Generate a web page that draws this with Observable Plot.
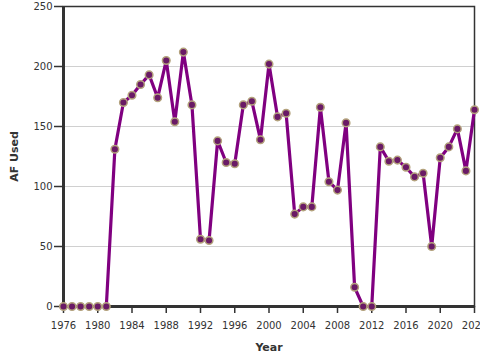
<!DOCTYPE html>
<html>
<head>
<meta charset="utf-8">
<script src="https://cdn.jsdelivr.net/npm/d3@7"></script>
<script src="https://cdn.jsdelivr.net/npm/@observablehq/plot@0.6"></script>
<style>
  html, body { margin: 0; padding: 0; background: #fff; }
  #chart svg { display: block; }
  g[aria-label="x-axis label"] text, g[aria-label="y-axis label"] text { font-weight: bold; font-size: 11px; }
</style>
</head>
<body>
<div id="chart"></div>
<script>
const years = [1976,1977,1978,1979,1980,1981,1982,1983,1984,1985,1986,1987,1988,1989,1990,1991,1992,1993,1994,1995,1996,1997,1998,1999,2000,2001,2002,2003,2004,2005,2006,2007,2008,2009,2010,2011,2012,2013,2014,2015,2016,2017,2018,2019,2020,2021,2022,2023,2024];
const afUsed = [0,0,0,0,0,0,131,170,176,185,193,174,205,154,212,168,56,55,138,120,119,168,171,139,202,158,161,77,83,83,166,104,97,153,16,0,0,133,121,122,116,108,111,50,124,133,148,113,164];
const xTicks = d3.range(1976, 2025, 4);
const yTicks = [0,50,100,150,200,250];
const gridTicks = [50,100,150,200];

const data = years.map((y, i) => ({year: y, af: afUsed[i]}));

const chart = Plot.plot({
  width: 480,
  height: 360,
  marginLeft: 63,
  marginRight: 6,
  marginTop: 6,
  marginBottom: 54,
  style: {fontFamily: "DejaVu Sans", fontSize: "10px", color: "#333", background: "#fff"},
  x: {domain: [1976, 2024]},
  y: {domain: [0, 250]},
  marks: [
    Plot.ruleY(gridTicks, {stroke: "#d0d0d0", strokeWidth: 1}),
    Plot.frame({stroke: "#333", strokeWidth: 1.5}),
    Plot.axisX({ticks: xTicks, tickFormat: d => String(d), tickSize: 7, tickPadding: 8, label: "Year", labelAnchor: "center", labelArrow: "none", labelOffset: 44, stroke: "#333", strokeWidth: 1.5}),
    Plot.axisY({ticks: yTicks, tickSize: 9, tickPadding: 2, label: "AF Used", labelAnchor: "center", labelArrow: "none", labelOffset: 53, stroke: "#333", strokeWidth: 1.5}),
    Plot.ruleX([1976], {stroke: "#333", strokeWidth: 3}),
    Plot.ruleY([0], {stroke: "#333", strokeWidth: 3}),
    Plot.line(data, {x: "year", y: "af", stroke: "#800080", strokeWidth: 3.2, strokeLinejoin: "round"}),
    Plot.dot(data, {x: "year", y: "af", r: 3.8, fill: "#6a1a66", stroke: "#b3a27c", strokeWidth: 1.5})
  ]
});
document.getElementById("chart").appendChild(chart);
</script>
</body>
</html>
